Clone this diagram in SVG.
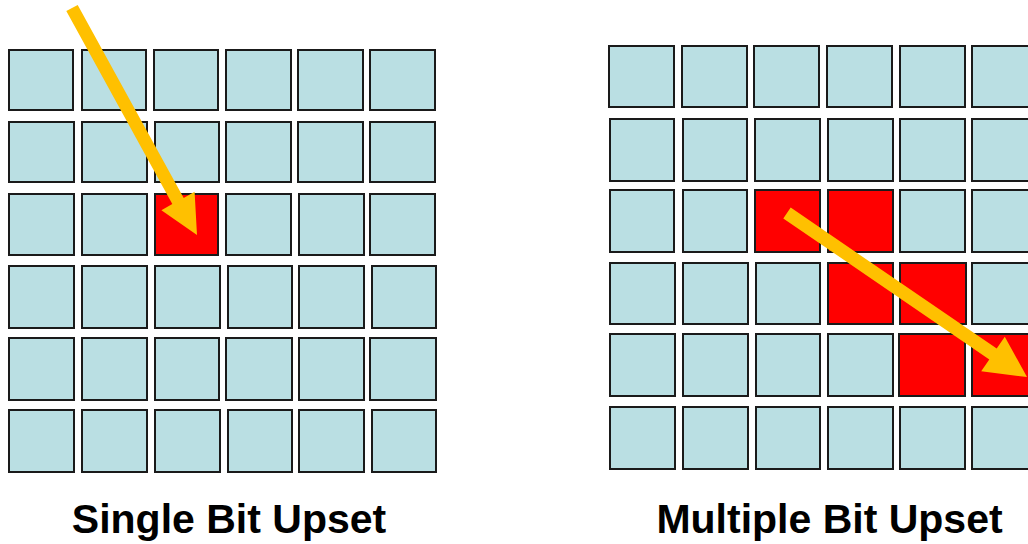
<svg xmlns="http://www.w3.org/2000/svg" width="1028" height="544" viewBox="0 0 1028 544">
<style>
.c{fill:#BADFE3;stroke:#1a1a1a;stroke-width:2}
.r{fill:#FF0000;stroke:#1a1a1a;stroke-width:2}
.a{fill:#FFC000;stroke:none}
.t{font-family:"Liberation Sans",Arial,sans-serif;font-weight:bold;font-size:41px;fill:#000;text-anchor:middle}
</style>
<rect width="1028" height="544" fill="#fff"/>
<g id="single-grid">
<rect class="c" x="9" y="50" width="64" height="60"/><rect class="c" x="82" y="50" width="64" height="60"/><rect class="c" x="154" y="50" width="64" height="60"/><rect class="c" x="226" y="50" width="65" height="60"/><rect class="c" x="298" y="50" width="65" height="60"/><rect class="c" x="370" y="50" width="65" height="60"/>
<rect class="c" x="9" y="122" width="65" height="60"/><rect class="c" x="82" y="122" width="65" height="60"/><rect class="c" x="155" y="122" width="64" height="60"/><rect class="c" x="226" y="122" width="65" height="60"/><rect class="c" x="298" y="122" width="65" height="60"/><rect class="c" x="370" y="122" width="65" height="60"/>
<rect class="c" x="9" y="194" width="65" height="61"/><rect class="c" x="82" y="194" width="65" height="61"/><rect class="r" x="155" y="194" width="63" height="61"/><rect class="c" x="226" y="194" width="65" height="61"/><rect class="c" x="299" y="194" width="65" height="61"/><rect class="c" x="370" y="194" width="65" height="61"/>
<rect class="c" x="9" y="266" width="65" height="62"/><rect class="c" x="82" y="266" width="65" height="62"/><rect class="c" x="155" y="266" width="65" height="62"/><rect class="c" x="228" y="266" width="64" height="62"/><rect class="c" x="299" y="266" width="65" height="62"/><rect class="c" x="372" y="266" width="64" height="62"/>
<rect class="c" x="9" y="338" width="65" height="62"/><rect class="c" x="82" y="338" width="65" height="62"/><rect class="c" x="155" y="338" width="64" height="62"/><rect class="c" x="226" y="338" width="66" height="62"/><rect class="c" x="299" y="338" width="65" height="62"/><rect class="c" x="370" y="338" width="66" height="62"/>
<rect class="c" x="9" y="410" width="65" height="62"/><rect class="c" x="82" y="410" width="65" height="62"/><rect class="c" x="155" y="410" width="65" height="62"/><rect class="c" x="228" y="410" width="64" height="62"/><rect class="c" x="299" y="410" width="65" height="62"/><rect class="c" x="372" y="410" width="64" height="62"/>
</g>
<g id="multiple-grid">
<rect class="c" x="609" y="46" width="65" height="61"/><rect class="c" x="682" y="46" width="65" height="61"/><rect class="c" x="754" y="46" width="65" height="61"/><rect class="c" x="827" y="46" width="65" height="61"/><rect class="c" x="900" y="46" width="65" height="61"/><rect class="c" x="972" y="46" width="65" height="61"/>
<rect class="c" x="610" y="119" width="64" height="62"/><rect class="c" x="683" y="119" width="64" height="62"/><rect class="c" x="755" y="119" width="65" height="62"/><rect class="c" x="828" y="119" width="65" height="62"/><rect class="c" x="900" y="119" width="65" height="62"/><rect class="c" x="972" y="119" width="65" height="62"/>
<rect class="c" x="610" y="190" width="64" height="62"/><rect class="c" x="683" y="190" width="64" height="62"/><rect class="r" x="755" y="190" width="65" height="62"/><rect class="r" x="828" y="190" width="65" height="62"/><rect class="c" x="900" y="190" width="65" height="62"/><rect class="c" x="972" y="190" width="65" height="62"/>
<rect class="c" x="610" y="263" width="65" height="61"/><rect class="c" x="683" y="263" width="65" height="61"/><rect class="c" x="756" y="263" width="64" height="61"/><rect class="r" x="828" y="263" width="65" height="61"/><rect class="r" x="900" y="263" width="66" height="61"/><rect class="c" x="972" y="263" width="65" height="61"/>
<rect class="c" x="610" y="334" width="65" height="62"/><rect class="c" x="683" y="334" width="65" height="62"/><rect class="c" x="756" y="334" width="64" height="62"/><rect class="c" x="828" y="334" width="65" height="62"/><rect class="r" x="899" y="334" width="66" height="62"/><rect class="r" x="972" y="334" width="65" height="62"/>
<rect class="c" x="610" y="407" width="65" height="62"/><rect class="c" x="683" y="407" width="65" height="62"/><rect class="c" x="756" y="407" width="64" height="62"/><rect class="c" x="828" y="407" width="65" height="62"/><rect class="c" x="900" y="407" width="65" height="62"/><rect class="c" x="972" y="407" width="65" height="62"/>
</g>
<g id="connectors">
<polygon class="a" points="66.3,11.1 77.7,4.9 183.7,197.9 194.6,191.8 197,235 161.4,210.2 172.3,204.1"/>
<polygon class="a" points="783.3,218.4 790.7,207.6 996.7,348.6 1004.8,336.7 1027,377 981.2,371.3 989.3,359.4"/>
</g>
<g id="labels">
<text class="t" x="229" y="533">Single Bit Upset</text>
<text class="t" x="829.5" y="533">Multiple Bit Upset</text>
</g>
</svg>
